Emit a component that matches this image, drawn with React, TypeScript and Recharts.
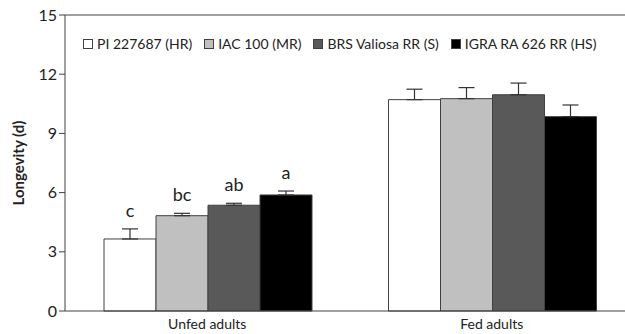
import React from 'react';
import { BarChart, Bar, XAxis, YAxis, ErrorBar, ReferenceLine, LabelList } from 'recharts';

const categories = ['Unfed adults', 'Fed adults'];
const seriesNames = ['PI 227687 (HR)', 'IAC 100 (MR)', 'BRS Valiosa RR (S)', 'IGRA RA 626 RR (HS)'];
const seriesColors = ['#ffffff', '#c0c0c0', '#595959', '#000000'];
const pi227687 = [3.65, 10.71];
const iac100 = [4.83, 10.76];
const brsValiosa = [5.36, 10.96];
const igraRa626 = [5.88, 9.85];
const errPi = [0.51, 0.53];
const errIac = [0.12, 0.56];
const errBrs = [0.1, 0.59];
const errIgra = [0.2, 0.59];
const lettersUnfed = ['c', 'bc', 'ab', 'a'];
const yTicks = [0, 3, 6, 9, 12, 15];

const values = [pi227687, iac100, brsValiosa, igraRa626];
const errors = [errPi, errIac, errBrs, errIgra];

const data = categories.map((c, i) => {
  const row: any = { group: c };
  values.forEach((v, s) => {
    row['s' + s] = v[i];
    row['e' + s] = [0, errors[s][i]];
    row['l' + s] = i === 0 ? lettersUnfed[s] : '';
  });
  return row;
});

const FONT = 'Lato, "Open Sans", sans-serif';

const makeLetter = (s: number) => (props: any) => {
  const { x, y, width, height, index } = props;
  const row = data[index];
  const letter = row['l' + s];
  if (!letter) return null;
  const v = row['s' + s];
  const e = row['e' + s][1];
  const pxPerUnit = height / v;
  const errTop = y - e * pxPerUnit;
  return (
    <text x={x + width / 2} y={errTop - 12} textAnchor="middle" fontSize={18} fontFamily={FONT} fill="#222">
      {letter}
    </text>
  );
};

const LegendBox = () => (
  <div style={{ position: 'absolute', top: 35, left: 83, display: 'flex', alignItems: 'center', fontFamily: FONT, fontSize: 14, color: '#222', whiteSpace: 'nowrap' }}>
    {seriesNames.map((n, i) => (
      <div key={n} style={{ display: 'flex', alignItems: 'center', marginRight: 12 }}>
        <span style={{ display: 'inline-block', width: 8, height: 8, background: seriesColors[i], border: '1px solid #404040', marginRight: 4 }} />
        <span>{n}</span>
      </div>
    ))}
  </div>
);

const YLabel = (props: any) => {
  const { viewBox } = props;
  const cy = viewBox.y + viewBox.height / 2;
  const cx = 18;
  return (
    <text x={cx} y={cy} transform={`rotate(-90 ${cx} ${cy})`} textAnchor="middle" dominantBaseline="central" fontSize={15} fontWeight="bold" fontFamily={FONT} fill="#222">
      Longevity (d)
    </text>
  );
};

export default function App() {
  return (
    <div style={{ position: 'absolute', left: 0, top: 0, width: 625, height: 334, overflow: 'hidden', background: '#fff' }}>
      <BarChart width={634} height={334} data={data} margin={{ top: 15, right: 0, left: 0, bottom: 0 }} barCategoryGap={39} barGap={0}>
        <XAxis dataKey="group" height={23} tickLine={false} axisLine={{ stroke: '#404040' }} tick={{ fontSize: 14, fontFamily: FONT, fill: '#222' }} />
        <YAxis domain={[0, 15]} ticks={yTicks} width={65} tickSize={6} tickLine={{ stroke: '#404040' }} axisLine={{ stroke: '#404040' }} tick={{ fontSize: 16, fontFamily: FONT, fill: '#222' }} label={<YLabel />} />
        <ReferenceLine y={15} stroke="#404040" />
        {seriesNames.map((n, s) => (
          <Bar key={n} dataKey={'s' + s} name={n} fill={seriesColors[s]} stroke="#404040" strokeWidth={1} isAnimationActive={false}>
            <ErrorBar dataKey={'e' + s} width={8} stroke="#333" strokeWidth={1.2} direction="y" />
            <LabelList dataKey={'l' + s} content={makeLetter(s)} />
          </Bar>
        ))}
      </BarChart>
      <LegendBox />
    </div>
  );
}
